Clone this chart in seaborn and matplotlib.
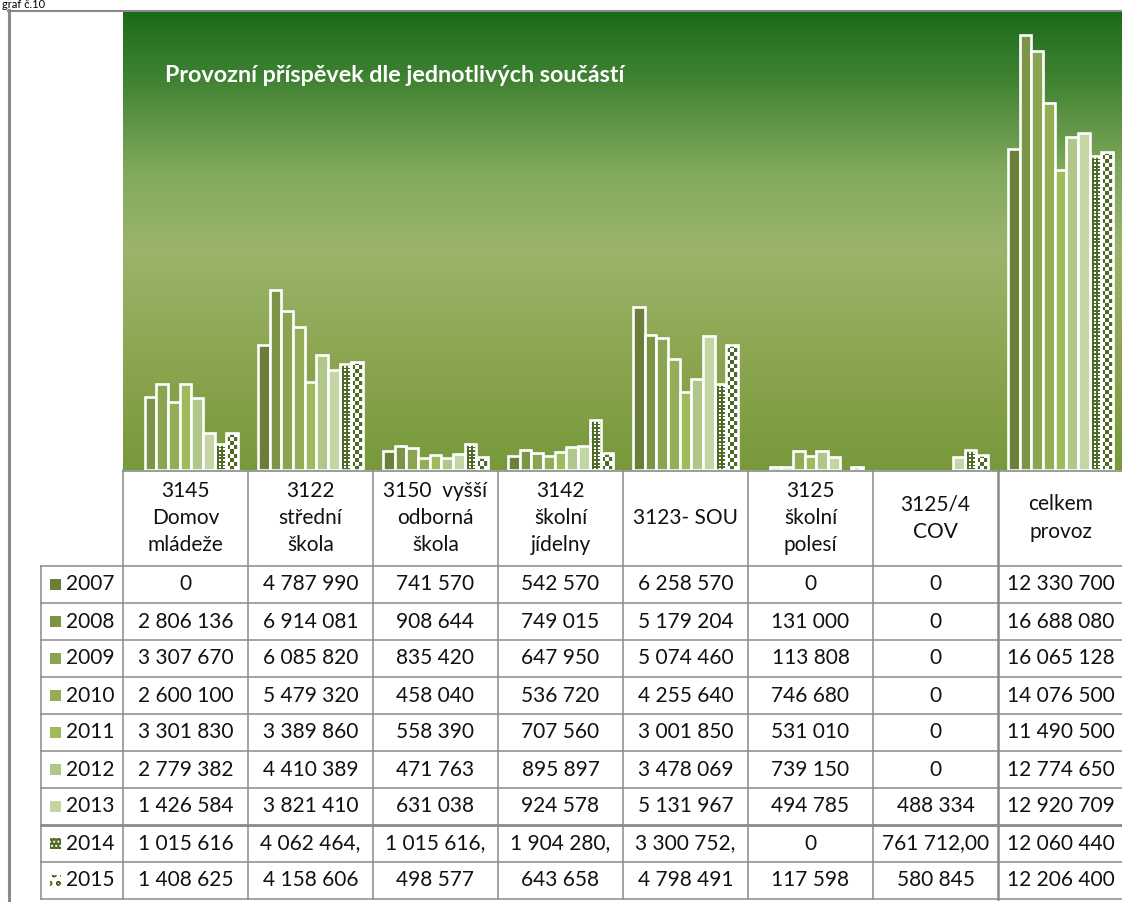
import numpy as np
import pandas as pd
import matplotlib
matplotlib.use("Agg")
import matplotlib.pyplot as plt
import seaborn as sns
from matplotlib.colors import LinearSegmentedColormap
from matplotlib.patches import Rectangle

# --- data (Kč) ---
kategorie = ["3145\nDomov\nmládeže", "3122\nstřední\nškola", "3150  vyšší\nodborná\nškola",
             "3142\nškolní\njídelny", "3123- SOU", "3125\nškolní\npolesí",
             "3125/4\nCOV", "celkem\nprovoz"]
roky = ["2007", "2008", "2009", "2010", "2011", "2012", "2013", "2014", "2015"]

h2007 = [0, 4787990, 741570, 542570, 6258570, 0, 0, 12330700]
h2008 = [2806136, 6914081, 908644, 749015, 5179204, 131000, 0, 16688080]
h2009 = [3307670, 6085820, 835420, 647950, 5074460, 113808, 0, 16065128]
h2010 = [2600100, 5479320, 458040, 536720, 4255640, 746680, 0, 14076500]
h2011 = [3301830, 3389860, 558390, 707560, 3001850, 531010, 0, 11490500]
h2012 = [2779382, 4410389, 471763, 895897, 3478069, 739150, 0, 12774650]
h2013 = [1426584, 3821410, 631038, 924578, 5131967, 494785, 488334, 12920709]
h2014 = [1015616, 4062464, 1015616, 1904280, 3300752, 0, 761712, 12060440]
h2015 = [1408625, 4158606, 498577, 643658, 4798491, 117598, 580845, 12206400]
hodnoty = [h2007, h2008, h2009, h2010, h2011, h2012, h2013, h2014, h2015]

# texty v tabulce tak, jak jsou v originale
popisky_2014 = ["1 015 616", "4 062 464,", "1 015 616,", "1 904 280,", "3 300 752,",
                "0", "761 712,00", "12 060 440"]

barvy = ["#6b7f3a", "#7b9445", "#8aa552", "#93ae57", "#9dbb5a", "#afc88a", "#c3d6a4",
         "#4f6a27", "#4f6a27"]
tmava = "#4f6a27"

def fmt(v):
    return f"{v:,}".replace(",", " ")

df = pd.DataFrame({
    "kategorie": np.repeat(kategorie, len(roky)),
    "rok": roky * len(kategorie),
    "hodnota": [hodnoty[j][i] for i in range(len(kategorie)) for j in range(len(roky))],
})

W, H = 1122, 902
fig = plt.figure(figsize=(W / 100, H / 100), dpi=100)
fig.patch.set_facecolor("white")

# plot area in pixel coordinates
px_l, px_t, px_b = 123, 12, 470
ax = fig.add_axes([px_l / W, 1 - px_b / H, 1000 / W, (px_b - px_t) / H])
ymax = 17.57e6

# gradient background
cmap = LinearSegmentedColormap.from_list("pozadi", [
    (0.0, "#1c6b1a"), (0.14, "#3d8131"), (0.35, "#82a95c"), (0.52, "#9ab56b"),
    (0.75, "#8ca651"), (1.0, "#77993b")])
grad = np.linspace(0, 1, 256).reshape(-1, 1)
ax.imshow(grad, extent=(-0.5, 7.5, 0, ymax), aspect="auto", cmap=cmap, zorder=0,
          origin="upper")

sns.barplot(data=df, x="kategorie", y="hodnota", hue="rok", order=kategorie,
            hue_order=roky, palette=barvy, width=0.84, saturation=1, gap=0,
            edgecolor="white", linewidth=1.9, legend=False, ax=ax, zorder=3)

ax.set_xlim(-0.5, 7.5)
ax.set_ylim(0, ymax)
ax.set_axis_off()

# checker / dotted fill for 2014 and 2015
bar_px = 125
def textura(patch, cell, vzor):
    h = patch.get_height()
    if h <= 0:
        patch.set_linewidth(0)
        return
    w = patch.get_width()
    hp = h / ymax * (px_b - px_t)
    nr = max(1, int(round(hp / cell)))
    nc = max(1, int(round(w * bar_px / cell)))
    i, j = np.mgrid[0:nr, 0:nc]
    if vzor == "jemny":
        bila = (i % 2 == 1) & (j % 2 == 0)
    else:
        bila = (i + j) % 2 == 0
    arr = np.where(bila[..., None], np.array([1.0, 1.0, 1.0]),
                   np.array(matplotlib.colors.to_rgb(tmava)))
    im = ax.imshow(arr, extent=(patch.get_x(), patch.get_x() + w, 0, h),
                   aspect="auto", interpolation="nearest", zorder=2.8)
    im.set_clip_path(patch)
    patch.set_facecolor("none")

for k, cont in enumerate(ax.containers):
    for p in cont:
        if p.get_height() <= 0:
            p.set_linewidth(0)
    if k == 7:
        for p in cont:
            textura(p, 1.8, "jemny")
    elif k == 8:
        for p in cont:
            textura(p, 4.0, "sach")
ax.set_xlim(-0.5, 7.5)
ax.set_ylim(0, ymax)

fig.text(165 / W, 1 - 75 / H, "Provozní příspěvek dle jednotlivých součástí",
         color="white", fontsize=16.8, fontweight="bold", family="Lato",
         va="center", ha="left")

# --- data table drawn under the chart ---
tab = fig.add_axes([0, 0, 1, 1], zorder=-1)
tab.set_xlim(0, W)
tab.set_ylim(H, 0)
tab.set_axis_off()

seda = "#8a8a8a"
tab.plot([9, 9], [10, H], color=seda, lw=2.2)
tab.plot([8, W], [10.5, 10.5], color=seda, lw=1.5)

col_x = [123 + 125 * c for c in range(9)]
row_top = 566
row_h = 37.0
row_y = [row_top + row_h * r for r in range(10)]

tab.plot([123, W], [470.5, 470.5], color=seda, lw=1.2)
for r, y in enumerate(row_y):
    tab.plot([41, W], [y, y], color=seda, lw=2.0 if r == 7 else 1.1)
tab.plot([41, 41], [row_top, row_y[-1]], color=seda, lw=1.1)
for c, x in enumerate(col_x[:-1]):
    tab.plot([x, x], [470, row_y[-1]], color=seda, lw=1.8 if c == 7 else 1.1)

fs = 15
for c, nazev in enumerate(kategorie):
    tab.text(col_x[c] + 62.5, 518, nazev, ha="center", va="center", fontsize=fs,
             family="Lato", linespacing=1.45, color="#111111")

for r, rok in enumerate(roky):
    yc = row_y[r] + row_h / 2
    if r == 7:
        sq = Rectangle((50, yc - 5.5), 11, 11, facecolor=tmava, edgecolor="white",
                       lw=0, hatch="....")
    elif r == 8:
        sq = Rectangle((50, yc - 5.5), 11, 11, facecolor="white", edgecolor=tmava,
                       lw=0, hatch="oo")
    else:
        sq = Rectangle((50, yc - 5.5), 11, 11, facecolor=barvy[r], lw=0)
    tab.add_patch(sq)
    tab.text(66, yc, rok, ha="left", va="center", fontsize=fs, family="Lato",
             color="#111111")
    for c in range(len(kategorie)):
        txt = popisky_2014[c] if r == 7 else fmt(hodnoty[r][c])
        tab.text(col_x[c] + 62.5, yc, txt, ha="center", va="center", fontsize=fs,
                 family="Lato", color="#111111")

tab.text(2, 8.5, "graf č.10", ha="left", va="baseline", fontsize=8, family="Lato")

fig.savefig("out.png", dpi=100)
